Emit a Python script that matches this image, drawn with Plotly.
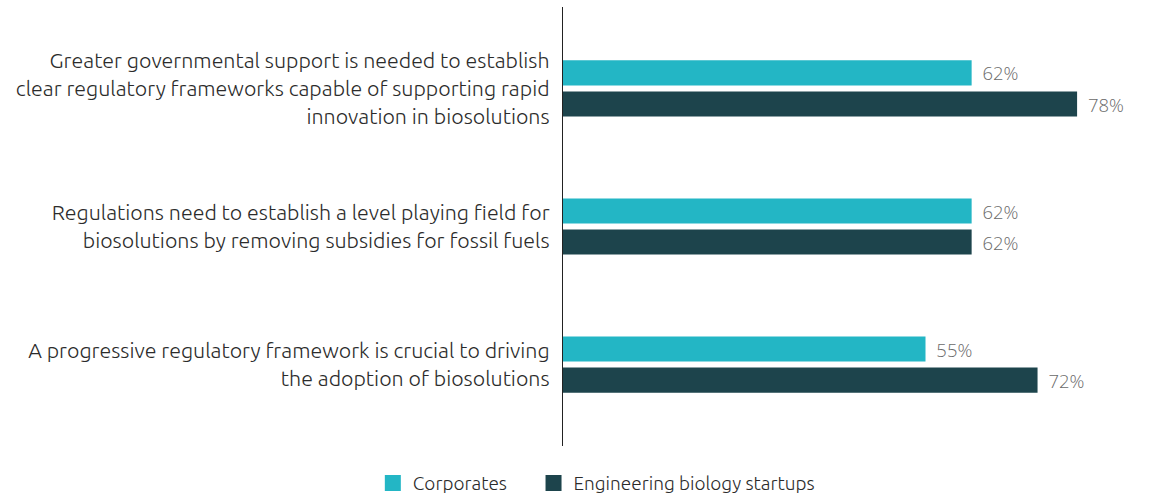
import plotly.graph_objects as go

categories = [
    "Greater governmental support is needed to establish<br>clear regulatory frameworks capable of supporting rapid<br>innovation in biosolutions",
    "Regulations need to establish a level playing field for<br>biosolutions by removing subsidies for fossil fuels",
    "A progressive regulatory framework is crucial to driving<br>the adoption of biosolutions",
]
corporates = [62, 62, 55]
startups = [78, 62, 72]
series_names = ["Corporates", "Engineering biology startups"]
colors = ["#23B6C5", "#1D444C"]

fig = go.Figure()
for name, vals, col in zip(series_names, [corporates, startups], colors):
    fig.add_trace(go.Bar(
        y=categories, x=vals, name=name, orientation="h",
        marker=dict(color=col, line=dict(width=0)),
        texttemplate="\u00a0\u2009%{x}%", textposition="outside",
        textfont=dict(family="Open Sans, Noto Sans, sans-serif", size=22, color="#6a6a6a", weight=300),
        cliponaxis=False, showlegend=False,
    ))
# legend entries with larger square swatches
legend_pad = ["\u00a0\u00a0\u00a0\u00a0\u00a0", ""]
for name, col, pad in zip(series_names, colors, legend_pad):
    fig.add_trace(go.Scatter(
        x=[None], y=[None], mode="markers", name=name + pad,
        marker=dict(symbol="square", size=16, color=col),
        hoverinfo="skip",
    ))

fig.update_layout(
    width=1149, height=494,
    margin=dict(l=563, r=6, t=7, b=48, autoexpand=False),
    paper_bgcolor="white", plot_bgcolor="white",
    barmode="group", bargap=0.55, bargroupgap=0.19,
    font=dict(family="Ubuntu, Open Sans, Noto Sans, sans-serif", size=20, color="#2b2b2b", weight=300),
    xaxis=dict(range=[0, 88], visible=False, showgrid=False, zeroline=False),
    yaxis=dict(
        range=[2.59, -0.59], showline=True, linecolor="#222222", linewidth=1.3,
        ticks="", showgrid=False, zeroline=False, ticklabelstandoff=8,
        tickfont=dict(size=21.4, color="#2b2b2b"),
    ),
    legend=dict(
        orientation="h", xref="container", x=0.519, xanchor="center",
        yref="container", y=0.022, yanchor="middle",
        font=dict(size=19, color="#2b2b2b"), itemwidth=30,
        traceorder="normal", itemsizing="trace",
    ),
)

fig.write_html(
    "out.html",
    config={"displayModeBar": False},
    post_script="document.body.style.margin='0';document.body.style.padding='0';",
)
